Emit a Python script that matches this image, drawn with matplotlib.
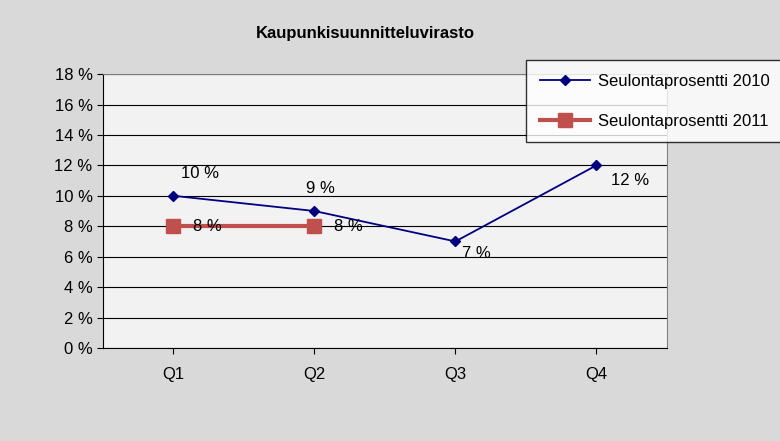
import matplotlib
matplotlib.use("Agg")
import matplotlib.pyplot as plt

quarters = ["Q1", "Q2", "Q3", "Q4"]
rate_2010 = [10, 9, 7, 12]
rate_2011 = [8, 8]

fig = plt.figure(figsize=(7.8, 4.41), dpi=100, facecolor="#d9d9d9")
ax = fig.add_axes([0.132, 0.211, 0.723, 0.621], facecolor="#f2f2f2")

x = list(range(len(quarters)))
ax.plot(x, rate_2010, color="#000080", marker="D", markersize=5, lw=1.3,
        label="Seulontaprosentti 2010")
ax.plot(x[:len(rate_2011)], rate_2011, color="#c0504d", marker="s", markersize=10, lw=3,
        label="Seulontaprosentti 2011")

offsets = [(0.05, 1.2), (-0.06, 1.2), (0.05, -1.1), (0.1, -1.3)]
for i, v in enumerate(rate_2010):
    ax.text(i + offsets[i][0], v + offsets[i][1], f"{v} %", fontsize=12, family="Liberation Sans")
for i, v in enumerate(rate_2011):
    ax.text(i + 0.14, v, f"{v} %", fontsize=12, va="center", family="Liberation Sans")

ax.set_xlim(-0.5, 3.5)
ax.set_ylim(0, 18)
ax.set_yticks(range(0, 19, 2))
ax.set_yticklabels([f"{t} %" for t in range(0, 19, 2)])
ax.set_xticks(x)
ax.set_xticklabels(quarters)
ax.grid(axis="y", color="black", lw=0.8)
ax.set_axisbelow(True)
for s in ["top", "right"]:
    ax.spines[s].set_color("#808080")
ax.tick_params(labelsize=12, length=4)
for lab in ax.get_xticklabels() + ax.get_yticklabels():
    lab.set_family("Liberation Sans")
ax.tick_params(axis="x", pad=10)

fig.text(0.468, 0.925, "Kaupunkisuunnitteluvirasto", ha="center", va="center",
         fontsize=12, fontweight="bold", family="Liberation Sans")

leg = fig.legend(loc="upper left", bbox_to_anchor=(0.664, 0.882), frameon=True,
                 fancybox=False, edgecolor="black", facecolor="white",
                 prop={"family": "Liberation Sans", "size": 12}, labelspacing=1.5,
                 handlelength=3, borderpad=0.8, handletextpad=0.5)
leg.get_frame().set_linewidth(1)

fig.savefig("out.png", dpi=100, facecolor=fig.get_facecolor())
